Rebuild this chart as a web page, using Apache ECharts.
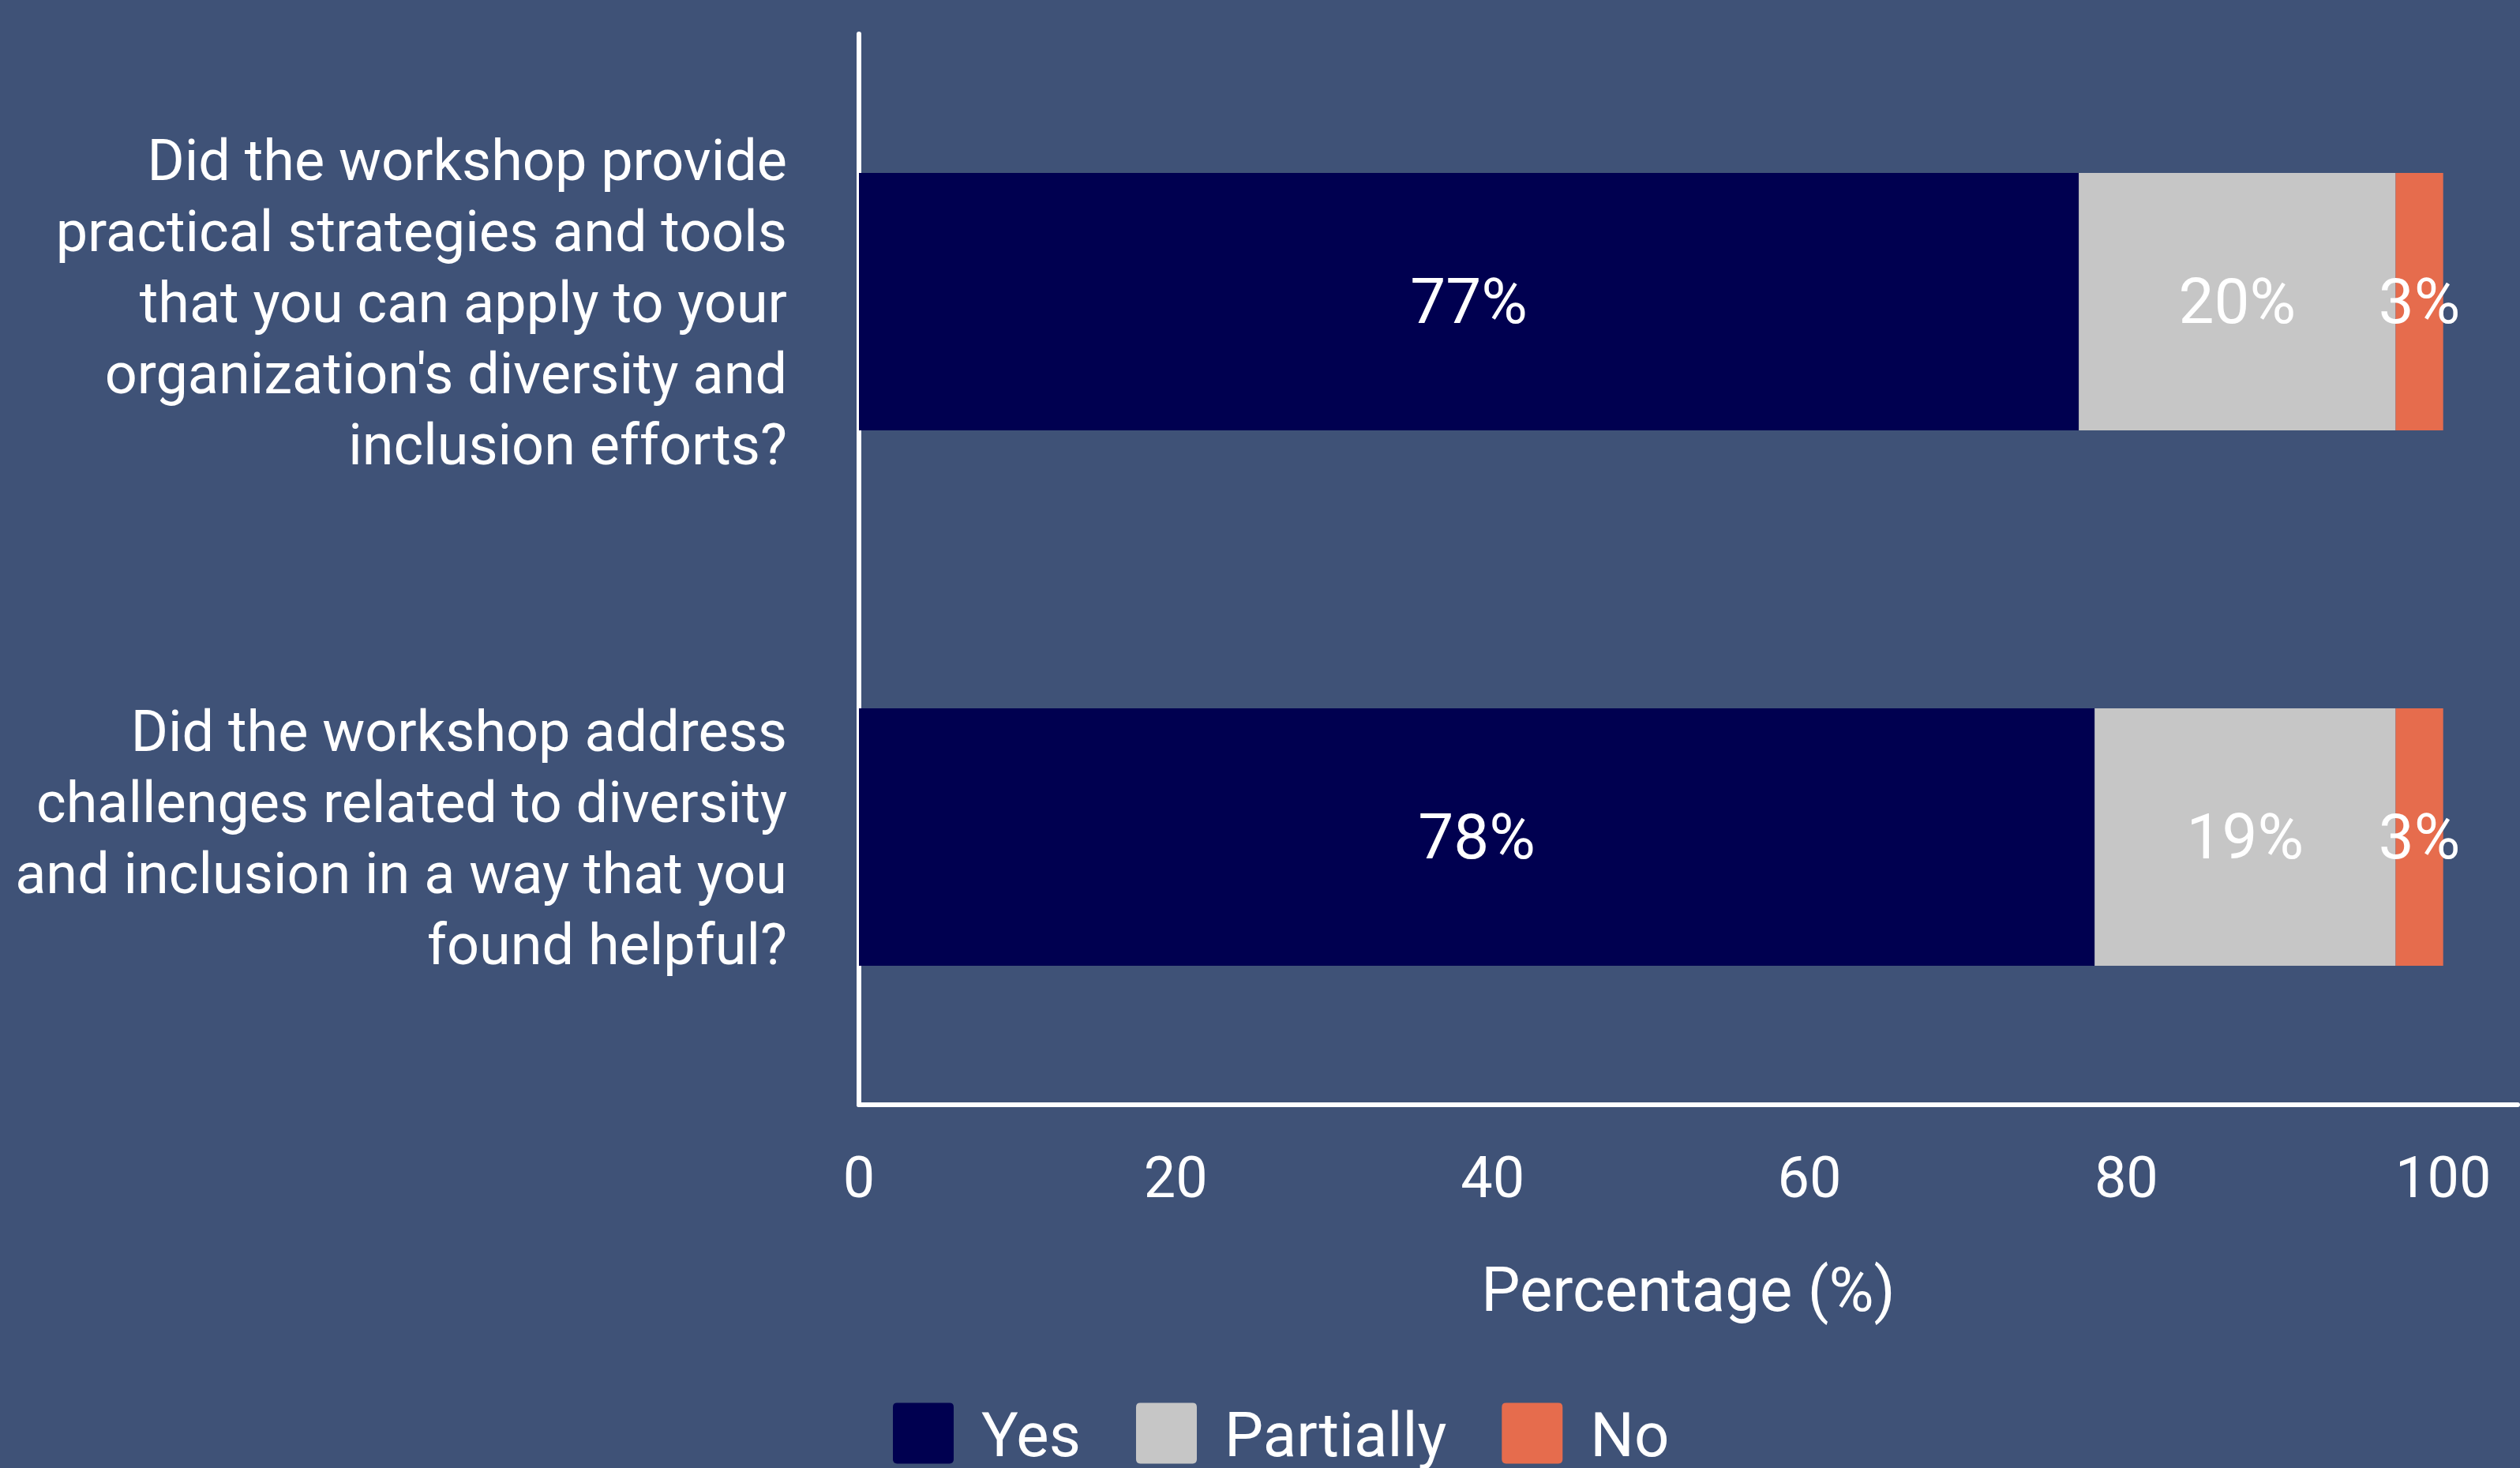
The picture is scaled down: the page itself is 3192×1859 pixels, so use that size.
<!DOCTYPE html>
<html>
<head>
<meta charset="utf-8">
<style>
  html, body { margin: 0; padding: 0; background: #3F5277; }
  #chart { width: 3192px; height: 1859px; }
</style>
<script src="https://cdn.jsdelivr.net/npm/echarts@6/dist/echarts.min.js"></script>
</head>
<body>
<div id="chart"></div>
<script>
// Survey questions (top to bottom) and response shares in percent
const questions = [
  "Did the workshop provide\npractical strategies and tools\nthat you can apply to your\norganization's diversity and\ninclusion efforts?",
  "Did the workshop address\nchallenges related to diversity\nand inclusion in a way that you\nfound helpful?"
];
const yesValues = [77, 78];
const partiallyValues = [20, 19];
const noValues = [3, 3];
const responseNames = ["Yes", "Partially", "No"];
const responseColors = ["#000050", "#C6C6C6", "#E66C4D"];
const axisTitle = "Percentage (%)";

const FONT = "Roboto";
const chart = echarts.init(document.getElementById("chart"));

const seriesData = [yesValues, partiallyValues, noValues];

const legendIcon = "path://M7,0H93Q100,0 100,7V93Q100,100 93,100H7Q0,100 0,93V7Q0,0 7,0Z";

// Question labels: each line as a rich token, preceded by a thin spacer line
// that nudges the block slightly downward.
function questionLabel(text) {
  return "{gap| }\n" + text.split("\n").map(function (line) {
    return "{q|" + line + "}";
  }).join("\n");
}

chart.setOption({
  backgroundColor: "#3F5277",
  animation: false,
  textStyle: { fontFamily: FONT, color: "#FFFFFF" },
  grid: { left: 1088, right: 0, top: 43, bottom: 460 },
  legend: {
    data: responseNames,
    left: 1126,
    top: 1762,
    itemWidth: 77,
    itemHeight: 79,
    itemGap: 70,
    icon: legendIcon,
    formatter: function (name) { return "{gap| }\n{t|" + name + "}"; },
    textStyle: {
      fontFamily: FONT,
      fontSize: 78,
      color: "#FFFFFF",
      padding: [0, 0, 0, 30],
      rich: {
        gap: { fontSize: 1, lineHeight: 18, height: 18 },
        t: { fontFamily: FONT, fontSize: 78, color: "#FFFFFF" }
      }
    }
  },
  xAxis: {
    type: "value",
    min: 0,
    max: 104.7,
    interval: 20,
    name: axisTitle,
    nameLocation: "middle",
    nameGap: 202,
    nameTextStyle: { fontFamily: FONT, fontSize: 78, color: "#FFFFFF" },
    axisLine: { show: true, lineStyle: { color: "#FFFFFF", width: 6 } },
    axisTick: { show: false },
    splitLine: { show: false },
    axisLabel: {
      fontFamily: FONT,
      fontSize: 72,
      color: "#FFFFFF",
      margin: 63,
      formatter: function (v) { return v % 20 === 0 ? String(v) : ""; }
    }
  },
  yAxis: {
    type: "category",
    inverse: true,
    data: questions,
    axisLine: { show: true, lineStyle: { color: "#FFFFFF", width: 6 } },
    axisTick: { show: false },
    splitLine: { show: false },
    axisLabel: {
      color: "#FFFFFF",
      align: "right",
      margin: 91,
      formatter: questionLabel,
      rich: {
        gap: { fontSize: 1, lineHeight: 16, height: 16 },
        q: {
          fontFamily: FONT,
          fontSize: 72,
          lineHeight: 90,
          color: "#FFFFFF",
          align: "right"
        }
      }
    }
  },
  series: responseNames.map(function (name, i) {
    return {
      name: name,
      type: "bar",
      stack: "total",
      barWidth: 326,
      data: seriesData[i],
      itemStyle: { color: responseColors[i] },
      label: {
        show: true,
        position: "inside",
        formatter: "{c}%",
        offset: [0, 7],
        fontFamily: FONT,
        fontSize: 80,
        color: "#FFFFFF"
      }
    };
  })
});
</script>
</body>
</html>
